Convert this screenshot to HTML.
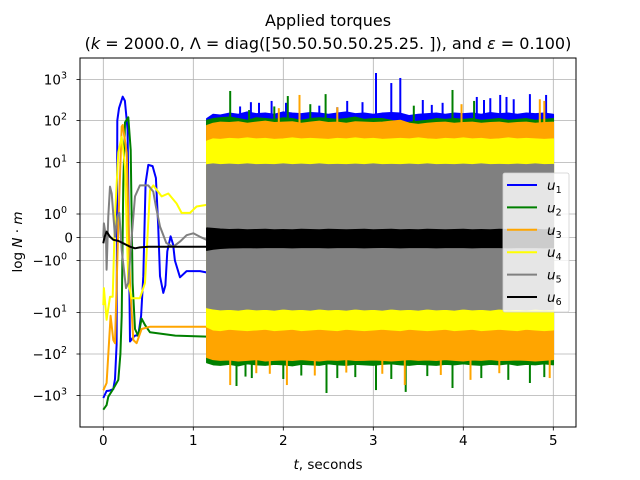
<!DOCTYPE html>
<html><head><meta charset="utf-8">
<style>
html,body{margin:0;padding:0;background:#fff;}
svg{display:block;font-family:"DejaVu Sans","Liberation Sans",sans-serif;}
</style></head>
<body>
<svg id="chart" width="640" height="480" viewBox="0 0 640 480" xmlns="http://www.w3.org/2000/svg">
<rect x="0" y="0" width="640" height="480" fill="#fff"/>
<text x="328" y="26" font-size="16" text-anchor="middle">Applied torques</text>
<text x="328" y="49" font-size="16" text-anchor="middle">(<tspan font-style="italic">k</tspan> = 2000.0, Λ = diag([50.50.50.50.25.25. ]), and <tspan font-style="italic">ε</tspan> = 0.100)</text>
<g id="grid"></g>
<g id="series"></g>
<rect x="80" y="58" width="496" height="369" fill="none" stroke="#000" stroke-width="1"/>
<g id="ticks"></g>
<text x="328" y="469" font-size="13.5" text-anchor="middle"><tspan font-style="italic">t</tspan>, seconds</text>
<text transform="translate(22,242) rotate(-90)" font-size="13.5" text-anchor="middle">log <tspan font-style="italic">N</tspan> · <tspan font-style="italic">m</tspan></text>
<g id="legend"></g>
</svg>
<script>
const xTicks=[0,1,2,3,4,5];
const yTickVals=[1000,100,10,1,0,-1,-10,-100,-1000];
const yTickBase=["10","10","10","10","0","−10","−10","−10","−10"];
const yTickExp=["3","2","1","0","","0","1","2","3"];
const seriesNames=["u1","u2","u3","u4","u5","u6"];
const seriesLabels=["1","2","3","4","5","6"];
const colors=["blue","green","orange","yellow","gray","black"];
// early-phase curves
const u1T=[0,0.037,0.07,0.111,0.13,0.148,0.156,0.175,0.215,0.24,0.27,0.297,0.33,0.352,0.389,0.42,0.444,0.47,0.5,0.548,0.585,0.61,0.63,0.667,0.69,0.711,0.748,0.775,0.796,0.852,0.926,1.074,1.15];
const u1V=[-1150,-780,-760,-700,-400,-60,100,200,380,300,60,-50,-40,-36,-35,-12,-2,4,9,8.5,5,0.5,-2,-4.2,-3,-0.6,0.05,-0.3,-1,-2.1,-1.6,-1.6,-1.7];
const u2T=[0,0.037,0.056,0.111,0.167,0.19,0.204,0.222,0.241,0.278,0.304,0.326,0.352,0.389,0.426,0.463,0.519,0.8,1.15];
const u2V=[-2200,-1700,-1070,-690,-420,-100,-12,4,90,120,20,-2.7,-25,-37,-14,-20,-30,-36,-38];
const u3T=[0,0.037,0.081,0.111,0.13,0.167,0.204,0.215,0.26,0.297,0.333,0.37,0.426,0.519,0.8,1.15];
const u3V=[-750,-500,-12,-46,-55,0.5,72,78,17,-2.7,-46,-55,-25,-22,-22,-22];
const u4T=[0,0.007,0.037,0.074,0.104,0.13,0.167,0.204,0.241,0.278,0.315,0.407,0.463,0.519,0.556,0.648,0.722,0.815,0.87,0.963,1.037,1.148];
const u4V=[-7.2,-3.4,-15,-5,-5,0.9,17.5,41,8.3,-2.7,-5.3,-5.3,-2.7,2.9,3.6,2.2,2.5,1.6,1.05,1.05,1.4,1.5];
const u5T=[0,0.007,0.03,0.037,0.056,0.074,0.093,0.13,0.156,0.178,0.204,0.252,0.278,0.315,0.352,0.407,0.5,0.556,0.585,0.63,0.7,0.778,0.852,0.926,1.0,1.074,1.148];
const u5V=[0.03,0.6,0.03,-1.5,0.9,3.4,2.5,0.03,0.9,1.05,-0.55,-3.4,-2.7,0.03,2.2,3.6,3.6,2.7,1.4,0.47,-0.24,-0.4,-0.18,0.1,0.18,0.03,-0.1];
const u6T=[0,0.015,0.037,0.074,0.111,0.167,0.222,0.297,0.352,0.407,0.5,1.15];
const u6V=[-0.25,0.03,0.25,0.03,-0.1,-0.15,-0.25,-0.4,-0.47,-0.43,-0.4,-0.4];
// noisy-phase band envelopes
const bandT=[1.15,1.22,1.3,1.4,1.5,1.6,1.7,1.8,1.9,2.0,2.1,2.2,2.3,2.4,2.5,2.6,2.7,2.8,2.9,3.0,3.1,3.2,3.3,3.4,3.5,3.6,3.7,3.8,3.9,4.0,4.1,4.2,4.3,4.4,4.5,4.6,4.7,4.8,4.9,5.0];
const u1Hi=[110,140,135,150,140,160,145,150,140,160,150,145,155,150,140,150,160,145,150,140,150,155,150,130,140,145,150,140,150,145,150,140,155,145,150,140,150,145,150,140];
const u1Lo=u1Hi.map(()=>-100);
const u2Hi=[100,110,115,120,110,100,115,110,105,115,110,100,110,115,110,105,110,120,105,110,110,100,85,90,95,100,110,105,110,105,110,100,105,110,100,105,110,100,105,110];
const u2Lo=[-160,-180,-185,-175,-190,-170,-180,-185,-175,-180,-190,-175,-180,-185,-170,-180,-185,-175,-180,-185,-175,-170,-180,-185,-175,-180,-185,-175,-180,-170,-180,-185,-175,-180,-170,-185,-175,-180,-170,-180];
const u3Hi=[75,85,90,88,92,85,90,95,88,90,92,85,90,95,88,90,85,92,90,88,90,95,100,85,80,85,88,90,85,88,90,85,88,90,85,88,90,85,88,90];
const u3Lo=[-120,-135,-140,-138,-145,-140,-135,-145,-140,-138,-142,-135,-140,-145,-138,-140,-135,-142,-140,-138,-140,-145,-140,-135,-140,-138,-142,-135,-140,-145,-138,-140,-135,-142,-140,-138,-140,-145,-140,-135];
const u4Hi=[32,36,35,37,36,38,36,37,35,36,38,36,37,36,35,37,36,38,36,37,35,36,37,36,38,36,35,37,36,38,36,37,35,36,38,36,37,36,35,36];
const u4Lo=[-22,-26,-27,-25,-26,-27,-26,-25,-27,-26,-25,-27,-26,-25,-26,-27,-25,-26,-27,-26,-25,-26,-27,-25,-26,-27,-26,-25,-27,-26,-25,-27,-26,-25,-26,-27,-25,-26,-27,-26];
const u5Hi=[9,9.3,9,9.2,9,9.3,9,9.1,9,9.3,9,9.2,9,9.3,9,9.1,9,9.2,9,9.3,9,9.1,9,9.2,9,9.3,9,9.1,9,9.2,9,9.3,9,9.1,9,9.2,9,9.3,9,9.1];
const u5Lo=[-8,-8.5,-8.8,-8.6,-8.9,-8.5,-8.8,-8.6,-8.9,-8.5,-8.8,-8.6,-8.9,-8.5,-8.8,-8.6,-8.9,-8.5,-8.8,-8.6,-8.9,-8.5,-8.8,-8.6,-8.9,-8.5,-8.8,-8.6,-8.9,-8.5,-8.8,-8.6,-8.9,-8.5,-8.8,-8.6,-8.9,-8.5,-8.8,-8.6];
const u6Hi=[0.4,0.38,0.35,0.33,0.34,0.32,0.33,0.34,0.32,0.33,0.32,0.34,0.33,0.32,0.34,0.33,0.32,0.33,0.34,0.32,0.33,0.34,0.32,0.33,0.32,0.34,0.33,0.32,0.33,0.34,0.32,0.33,0.32,0.34,0.33,0.32,0.33,0.34,0.32,0.33];
const u6Lo=[-0.55,-0.5,-0.47,-0.45,-0.44,-0.43,-0.44,-0.43,-0.42,-0.43,-0.44,-0.43,-0.42,-0.43,-0.44,-0.43,-0.42,-0.43,-0.44,-0.43,-0.42,-0.43,-0.44,-0.43,-0.42,-0.43,-0.44,-0.43,-0.42,-0.43,-0.44,-0.43,-0.42,-0.43,-0.44,-0.43,-0.42,-0.43,-0.44,-0.43];
// spikes
const u1SpikeT=[1.64,1.73,1.87,2.03,2.18,2.71,2.88,3.03,3.2,3.3,3.55,3.77,4.15,4.23,4.3,4.41,4.48,4.56,4.74,4.92,1.52,2.4,2.6,3.65];
const u1SpikeV=[280,270,300,270,300,300,280,1440,820,1090,316,270,375,316,350,420,375,330,440,420,220,230,210,240];
const u2SpikeT=[1.41,1.62,2.05,2.47,3.88,4.12,1.9,2.3,3.45];
const u2SpikeV=[525,180,395,440,555,300,220,250,230];
const u2SpikeNegT=[1.48,1.65,2.48,3.03,3.36,3.88,4.5,4.74,1.58,2.0,2.2,2.6,2.8,3.2,3.6,4.2,4.9];
const u2SpikeNegV=[-590,-380,-870,-740,-820,-660,-420,-500,-350,-400,-330,-380,-360,-400,-340,-380,-360];
const u3SpikeT=[2.18,3.98,4.85,4.9,1.95,2.6];
const u3SpikeV=[420,250,330,300,200,210];
const u3SpikeNegT=[1.41,1.7,2.04,3.35,4.08,4.96,1.85,2.35,2.7,3.1,3.75,4.4];
const u3SpikeNegV=[-560,-290,-560,-560,-420,-380,-300,-330,-280,-300,-320,-290];

const NS="http://www.w3.org/2000/svg";
const X0=103.3, XS=90;
function xsc(t){return X0+t*XS;}
const PA=[214,162.5,120.5,79.5];
const NA=[260.5,312.5,354,395.5];
function ysc(v){
  const a=Math.abs(v);
  if(a<=1){return 237.5-(v>0?v*23.5:v*23);}
  const d=Math.log10(a);
  const A=v>0?PA:NA;
  const i=Math.min(Math.floor(d),2);
  return A[i]+(A[i+1]-A[i])*(d-i);
}
function mk(tag,attrs,parent){const e=document.createElementNS(NS,tag);for(const k in attrs)e.setAttribute(k,attrs[k]);parent.appendChild(e);return e;}

const grid=document.getElementById('grid');
const ticks=document.getElementById('ticks');
xTicks.forEach(t=>{
  const gl=mk('line',{x1:xsc(t),x2:xsc(t),y1:58,y2:427,stroke:'#b0b0b0','stroke-width':0.8},grid);
  
  
  const tk=mk('line',{x1:xsc(t),x2:xsc(t),y1:427,y2:430.5,stroke:'#000','stroke-width':0.8},ticks);
  
  
  const lb=mk('text',{x:xsc(t),y:445,'font-size':13.5,'text-anchor':'middle'},ticks);
  lb.textContent=String(t);
  
  
});
yTickVals.forEach((v,i)=>{
  const y=ysc(v);
  const gl=mk('line',{x1:80,x2:576,y1:y,y2:y,stroke:'#b0b0b0','stroke-width':0.8},grid);
  
  
  const tk=mk('line',{x1:76.5,x2:80,y1:y,y2:y,stroke:'#000','stroke-width':0.8},ticks);
  
  
  const lb=mk('text',{x:yTickExp[i]?67:73,y:y+5,'font-size':13.5,'text-anchor':'end'},ticks);
  
  
  lb.appendChild(document.createTextNode(yTickBase[i]));
  if(yTickExp[i]){
    const sp=mk('tspan',{dy:-6,'font-size':9.5},lb);
    sp.textContent=yTickExp[i];
  }
});

const sg=document.getElementById('series');
const early=[[u1T,u1V],[u2T,u2V],[u3T,u3V],[u4T,u4V],[u5T,u5V],[u6T,u6V]];
const bands=[[u1Hi,u1Lo],[u2Hi,u2Lo],[u3Hi,u3Lo],[u4Hi,u4Lo],[u5Hi,u5Lo],[u6Hi,u6Lo]];
const spikesUp=[[u1SpikeT,u1SpikeV],[u2SpikeT,u2SpikeV],[u3SpikeT,u3SpikeV],null,null,null];
const spikesDn=[null,[u2SpikeNegT,u2SpikeNegV],[u3SpikeNegT,u3SpikeNegV],null,null,null];
function interp(T,V,t){for(let i=0;i<T.length-1;i++){if(t<=T[i+1]){const f=(t-T[i])/(T[i+1]-T[i]);return V[i]+(V[i+1]-V[i])*f;}}return V[V.length-1];}
seriesNames.forEach((nm,k)=>{
  const g=mk('g',{},sg);
  
  
  const [T,V]=early[k];
  const pts=T.map((t,i)=>xsc(t).toFixed(1)+','+ysc(V[i]).toFixed(1)).join(' ');
  const pl=mk('polyline',{points:pts,fill:'none',stroke:colors[k],'stroke-width':2,'stroke-linejoin':'round'},g);
  
  
  const [H,L]=bands[k];
  let bp=bandT.map((t,i)=>xsc(t).toFixed(1)+','+ysc(H[i]).toFixed(1));
  for(let i=bandT.length-1;i>=0;i--)bp.push(xsc(bandT[i]).toFixed(1)+','+ysc(L[i]).toFixed(1));
  const bd=mk('polygon',{points:bp.join(' '),fill:colors[k],stroke:colors[k],'stroke-width':1.5,'stroke-linejoin':'round'},g);
  
  
  [spikesUp[k],spikesDn[k]].forEach((sp,dir)=>{
    if(!sp)return;
    sp[0].forEach((t,i)=>{
      const base=dir===0?interp(bandT,H,t):interp(bandT,L,t);
      const ln=mk('line',{x1:xsc(t),x2:xsc(t),y1:ysc(base),y2:ysc(sp[1][i]),stroke:colors[k],'stroke-width':2},g);
      
      
    });
  });
});

const lg=document.getElementById('legend');
const box=mk('rect',{x:503,y:173,width:66,height:139,rx:2,fill:'rgba(255,255,255,0.8)',stroke:'#d0d0d0','stroke-width':0.8},lg);


seriesNames.forEach((nm,k)=>{
  const y=185+k*22.4;
  const e=mk('g',{},lg);
  
  
  mk('line',{x1:507,x2:537,y1:y,y2:y,stroke:colors[k],'stroke-width':2},e);
  const tx=mk('text',{x:547,y:y+5,'font-size':13.5,'font-style':'italic'},e);
  tx.appendChild(document.createTextNode('u'));
  const s=mk('tspan',{dy:3,'font-size':9.5,'font-style':'normal'},tx);
  s.textContent=seriesLabels[k];
});
</script>
</body></html>
